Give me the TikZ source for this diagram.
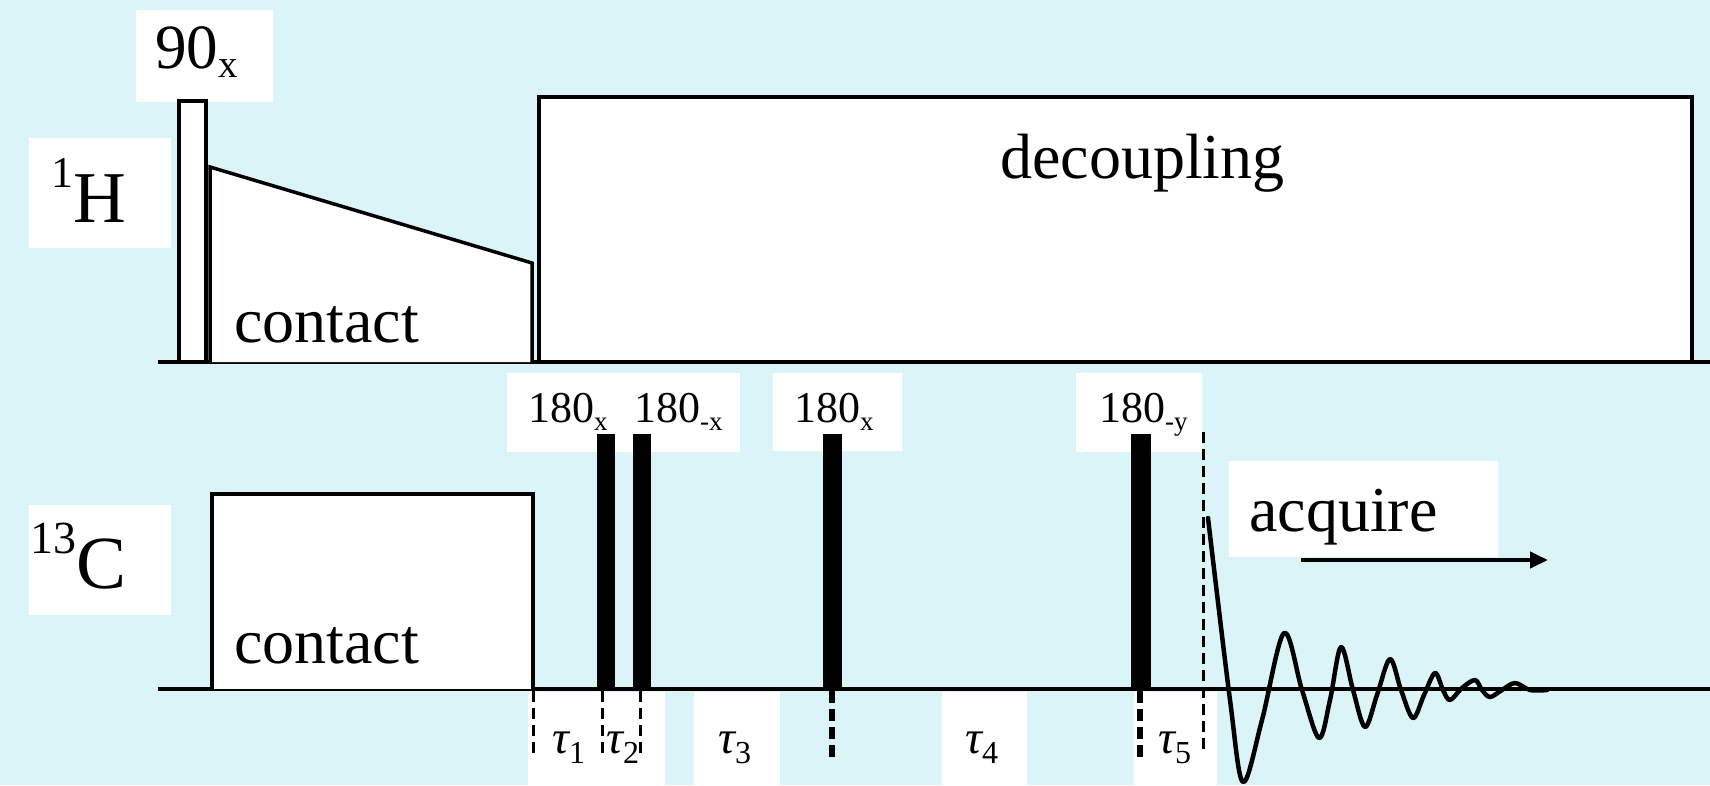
\documentclass[tikz,border=0pt]{standalone}
\usepackage{fontspec}
\setmainfont{Liberation Serif}
\usetikzlibrary{arrows.meta}
\definecolor{bgc}{RGB}{219,244,248}
\newcommand\fs[1]{\fontsize{#1}{#1}\selectfont}
\newcommand\tausub[1]{{\fs{47}\itshape τ}\raisebox{-10pt}{\fs{32}#1}}
\begin{document}
\begin{tikzpicture}[x=1pt,y=-1pt,
  lab/.style={inner sep=0pt, anchor=base west},
  whitebox/.style={fill=white},
  ln/.style={line width=3.5pt, line join=miter},
  pulse/.style={fill=black},
  thindash/.style={line width=3pt, dash pattern=on 11pt off 6pt},
  thickdash/.style={line width=5.5pt, dash pattern=on 12pt off 6pt},
  fid/.style={line width=4.5pt, line join=round, line cap=round}]
\useasboundingbox (0,0) rectangle (1710,785);
\fill[bgc] (0,0) rectangle (1710,785);
% white label boxes
\fill[whitebox] (136,10) rectangle (273,102);
\fill[whitebox] (29,138) rectangle (171,248);
\fill[whitebox] (29,505) rectangle (171,615);
\fill[whitebox] (507,373) rectangle (740,452);
\fill[whitebox] (773,373) rectangle (902,451);
\fill[whitebox] (1076,373) rectangle (1202,452);
\fill[whitebox] (528,692) rectangle (665,785);
\fill[whitebox] (694,692) rectangle (780,785);
\fill[whitebox] (942,692) rectangle (1027,785);
\fill[whitebox] (1134,692) rectangle (1217,785);
\fill[whitebox] (1229,461) rectangle (1498,557);
% 1H channel
\draw[ln] (158,362) -- (1710,362);
\draw[ln, fill=white] (179,362) rectangle (206,101);
\draw[ln, fill=white] (210,362) -- (210,167) -- (532,263) -- (532,362);
\draw[ln, fill=white] (539,362) rectangle (1692,97);
\fill[white] (212,300) rectangle (439,362);
% 13C channel
\draw[ln] (158,689) -- (1710,689);
\draw[ln, fill=white] (212,689) -- (212,494) -- (533,494) -- (533,689);
\fill[pulse] (597,434) rectangle (615,689);
\fill[pulse] (633,434) rectangle (651,689);
\fill[pulse] (823,434) rectangle (842,689);
\fill[pulse] (1131,434) rectangle (1151,689);
% delay markers
\draw[thindash] (533,691) -- (533,758);
\draw[thindash] (602,691) -- (602,758);
\draw[thindash] (640,691) -- (640,758);
\draw[thickdash] (832,691) -- (832,758);
\draw[thickdash] (1140,691) -- (1140,758);
\draw[thindash] (1203,432) -- (1203,750);
% texts
\node[lab] (t90) at (155,68) {\fs{63}90\raisebox{-9pt}{\fs{39}x}};
\node[lab] (tH) at (51,222) {\raisebox{35pt}{\fs{44}1}\fs{73}H};
\node[lab] (tC) at (30,588) {\raisebox{35pt}{\fs{46}13}\fs{75}C};
\node[lab] (tcontH) at (234,342) {\fs{64}contact};
\node[lab] (tcontC) at (234,663) {\fs{64}contact};
\node[lab] (tdec) at (1000,178) {\fs{64}decoupling};
\node[lab] (tacq) at (1249,531) {\fs{64}acquire};
\node[lab] (p1) at (528,422) {\fs{44}180\raisebox{-8pt}{\fs{27}x}};
\node[lab] (p2) at (634,422) {\fs{44}180\raisebox{-8pt}{\fs{27}-x}};
\node[lab] (p3) at (794,422) {\fs{44}180\raisebox{-8pt}{\fs{27}x}};
\node[lab] (p4) at (1099,422) {\fs{44}180\raisebox{-8pt}{\fs{27}-y}};
\node[lab] (d1) at (552,753) {\tausub{1}};
\node[lab] (d2) at (606,753) {\tausub{2}};
\node[lab] (d3) at (718,753) {\tausub{3}};
\node[lab] (d4) at (965,753) {\tausub{4}};
\node[lab] (d5) at (1158,753) {\tausub{5}};
% FID
\draw[fid] plot[smooth, tension=0.55] coordinates {(1208,518) (1230,700) (1243,782) (1262,720) (1284,633) (1302,690) (1319,738) (1330,700) (1341,647) (1353,690) (1365,727) (1377,695) (1390,659) (1401,690) (1413,718) (1424,695) (1435,673) (1443,690) (1450,700) (1462,688) (1475,680) (1482,690) (1490,697) (1502,690) (1515,683) (1530,690) (1547,690)};
% acquisition arrow
\coordinate (a0) at (1301,560);
\coordinate (a1) at (1548,560);
\draw[line width=4pt, -{Triangle[length=18pt,width=16pt]}] (a0) -- (a1);
\end{tikzpicture}
\end{document}
